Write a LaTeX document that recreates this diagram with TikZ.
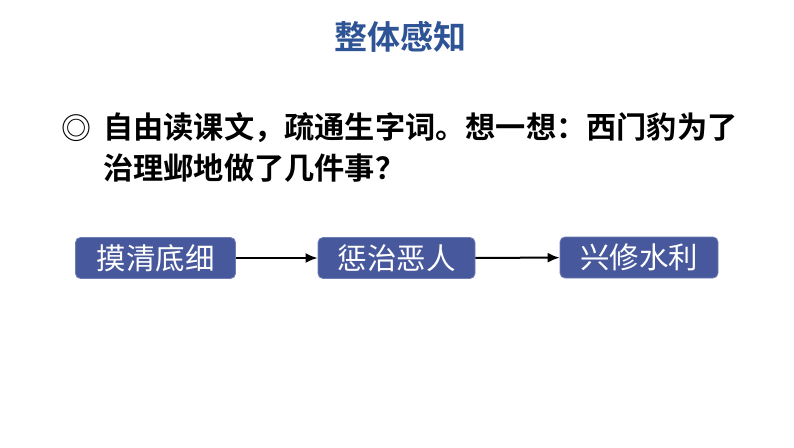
\documentclass[tikz,border=0pt]{standalone}
\usepackage{fontspec}
\newfontfamily\cjk{Noto Sans CJK SC}
\newfontfamily\cjkb{Noto Sans CJK SC Bold}
\usetikzlibrary{arrows.meta}
\definecolor{titleblue}{RGB}{47,84,150}
\definecolor{boxblue}{RGB}{72,88,156}
\definecolor{boxedge}{RGB}{110,125,180}
\tikzset{
  x=1pt,y=-1pt,
  stepbox/.style={draw=boxedge,line width=0.8pt,fill=boxblue,rounded corners=5pt,
    minimum width=160pt,minimum height=41pt,inner sep=0pt,
    font=\cjk\fontsize{29.5}{29.5}\selectfont,text=white,anchor=center},
  link/.style={-{Latex[length=12pt,width=10pt]},line width=2pt,black},
  body/.style={anchor=west,inner sep=0pt,font=\cjkb\fontsize{30.2}{30.2}\selectfont}
}
\begin{document}
\begin{tikzpicture}
\useasboundingbox (0,0) rectangle (794,447);
\fill[white] (0,0) rectangle (794,447);
\node[font=\cjkb\fontsize{33}{33}\selectfont,text=titleblue,inner sep=0pt] (title) at (400,37) {整体感知};
\node[anchor=center,inner sep=0pt,font=\fontsize{30}{30}\selectfont] (bullet) at (76,128) {\cjk ◎};
\node[body] (l1) at (103,128) {自由读课文，疏通生字词。想一想：西门豹为了};
\node[body] (l2) at (103,168) {治理邺地做了几件事？};
\node[stepbox] (b1) at (155.5,258) {摸清底细};
\node[stepbox,minimum width=157pt] (b2) at (396.5,258) {惩治恶人};
\node[stepbox,minimum width=158pt] (b3) at (639,257.5) {兴修水利};
\draw[link] (b1) -- (b2);
\draw[link] (b2) -- (b3);
\end{tikzpicture}
\end{document}
